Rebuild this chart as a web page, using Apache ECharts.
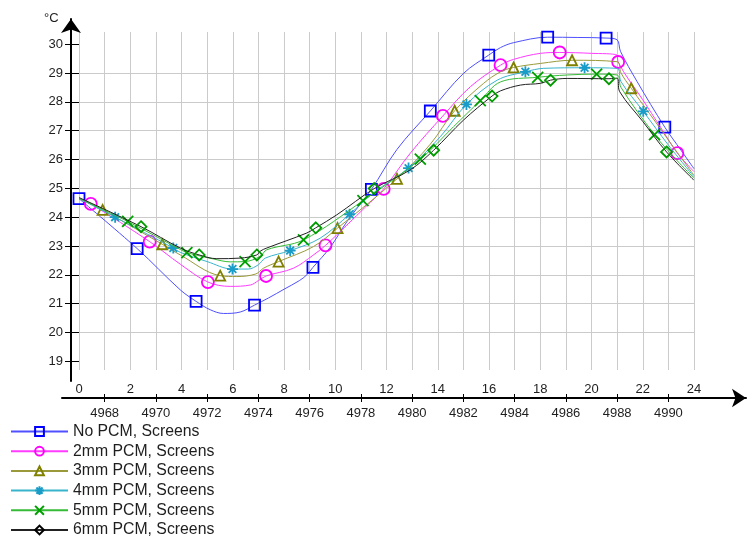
<!DOCTYPE html>
<html><head><meta charset="utf-8">
<script src="https://cdn.jsdelivr.net/npm/echarts@6/dist/echarts.min.js"></script>
<style>html,body{margin:0;padding:0;background:#fff}#c{width:753px;height:538px}</style>
</head><body><div id="c"></div>
<script>
// ---- tick labels ----
const yTicks = [19, 20, 21, 22, 23, 24, 25, 26, 27, 28, 29, 30];
const topTickHours = [0, 2, 4, 6, 8, 10, 12, 14, 16, 18, 20, 22, 24];
const topTickLabels = ['0', '2', '4', '6', '8', '10', '12', '14', '16', '18', '20', '22', '24'];
const bottomTickHours = [1, 3, 5, 7, 9, 11, 13, 15, 17, 19, 21, 23];
const bottomTickLabels = ['4968', '4970', '4972', '4974', '4976', '4978', '4980', '4982', '4984', '4986', '4988', '4990'];

const seriesNames = ['No PCM, Screens', '2mm PCM, Screens', '3mm PCM, Screens', '4mm PCM, Screens', '5mm PCM, Screens', '6mm PCM, Screens'];

// ---- No PCM ----
const noPcmLineH = [3.95, 5.12, 5.64, 6.29, 7.4, 8.0, 8.6, 8.89, 9.8, 10.46, 12.41, 15.01, 16.45, 16.96, 19.44, 21.0, 21.13, 21.78, 23.5, 24];
const noPcmLineT = [21.48, 20.79, 20.66, 20.71, 21.2, 21.5, 21.8, 22.0, 22.95, 23.85, 26.35, 28.99, 29.88, 30.05, 30.23, 30.15, 29.75, 28.7, 26.31, 25.68];
const noPcmMarkH = [0, 2.27, 4.57, 6.85, 9.13, 11.41, 13.71, 15.99, 18.29, 20.57, 22.86];
const noPcmMarkT = [24.64, 22.91, 21.08, 20.95, 22.26, 24.96, 27.68, 29.62, 30.24, 30.21, 27.12];

// ---- 2mm ----
const pcm2LineH = [0, 3.95, 5.9, 6.7, 7.0, 8.37, 9.15, 10.46, 11.2, 12.93, 15.27, 16.96, 18.01, 20.0, 21.0, 22.0, 22.7, 24];
const pcm2LineT = [24.65, 22.37, 21.6, 21.65, 21.8, 22.23, 22.69, 23.73, 24.37, 26.22, 28.52, 29.47, 29.68, 29.68, 29.62, 28.07, 27.11, 25.58];
const pcm2MarkH = [0.46, 2.76, 5.03, 7.3, 9.62, 11.89, 14.2, 16.45, 18.76, 21.04, 23.35];
const pcm2MarkT = [24.46, 23.15, 21.75, 21.96, 23.02, 24.98, 27.51, 29.27, 29.71, 29.38, 26.22];

// ---- 3mm ----
const pcm3LineH = [0, 3.95, 6.16, 6.9, 7.2, 9.15, 13.71, 15.79, 16.45, 18.01, 21.0, 21.15, 22.5, 23.3, 24];
const pcm3LineT = [24.65, 22.69, 21.94, 22.03, 22.23, 22.98, 26.53, 28.64, 29.04, 29.33, 29.39, 29.0, 27.3, 26.3, 25.45];
const pcm3MarkH = [0.92, 3.25, 5.51, 7.79, 10.09, 12.41, 14.66, 16.96, 19.24, 21.55];
const pcm3MarkT = [24.25, 23.06, 21.97, 22.46, 23.62, 25.33, 27.69, 29.19, 29.44, 28.47];

// ---- 4mm ----
const pcm4LineH = [0, 3.95, 5.0, 6.6, 7.0, 7.27, 9.41, 11.5, 14.1, 16.32, 18.14, 21.0, 21.15, 23.0, 24];
const pcm4LineT = [24.65, 22.78, 22.46, 22.2, 22.35, 22.58, 23.27, 24.85, 26.79, 28.75, 29.16, 29.16, 28.7, 26.5, 25.4];
const pcm4MarkH = [1.41, 3.68, 5.99, 8.24, 10.56, 12.86, 15.12, 17.42, 19.73, 22.02];
const pcm4MarkT = [24.0, 22.93, 22.2, 22.84, 24.1, 25.7, 27.91, 29.04, 29.18, 27.67];

// ---- 5mm ----
const pcm5LineH = [0, 3.95, 5.25, 5.9, 7.07, 7.33, 14.62, 16.45, 19.05, 21.0, 21.15, 23.3, 24];
const pcm5LineT = [24.65, 22.88, 22.55, 22.45, 22.64, 22.87, 27.14, 28.69, 28.93, 28.93, 28.5, 26.0, 25.35];
const pcm5MarkH = [1.9, 4.21, 6.48, 8.76, 11.08, 13.32, 15.66, 17.9, 20.2, 22.46];
const pcm5MarkT = [23.85, 22.77, 22.46, 23.21, 24.57, 26.01, 28.04, 28.85, 28.96, 26.86];

// ---- 6mm ----
const pcm6LineH = [0, 3.95, 5.38, 6.29, 7.07, 7.33, 8.89, 10.06, 12.93, 15.01, 16.45, 17.23, 18.01, 19.05, 21.0, 21.1, 22.0, 24];
const pcm6LineT = [24.68, 22.93, 22.56, 22.58, 22.82, 22.93, 23.45, 24.08, 25.64, 27.37, 28.38, 28.58, 28.64, 28.81, 28.82, 28.35, 27.32, 25.28];
const pcm6MarkH = [2.42, 4.69, 6.94, 9.24, 11.52, 13.84, 16.12, 18.4, 20.68, 22.93];
const pcm6MarkT = [23.67, 22.69, 22.69, 23.63, 24.99, 26.32, 28.2, 28.75, 28.8, 26.26];

function merge(lh, lt, mh, mt) {
  const pts = [];
  lh.forEach((h, i) => pts.push({ value: [h, lt[i]], symbol: 'none' }));
  mh.forEach((h, i) => pts.push({ value: [h, mt[i]] }));
  pts.sort((a, b) => a.value[0] - b.value[0]);
  return pts;
}

const FONT = 'Liberation Sans, Arial, sans-serif';
const TXT = '#1e1e1e';
const GRIDC = '#cbcbcb';

const styles = [
  { line: '#5050ff', mark: '#0000ff', symbol: 'rect', size: 11 },
  { line: '#ff3cff', mark: '#ff00ff', symbol: 'circle', size: 12 },
  { line: '#9a9a3a', mark: '#808000', symbol: 'triangle', size: 10 },
  { line: '#38b4cc', mark: '#1a9cc8', symbol: 'path://M5,0L5,10M0,5L10,5M1.5,1.5L8.5,8.5M1.5,8.5L8.5,1.5', size: 11 },
  { line: '#36bb36', mark: '#00a000', symbol: 'path://M0,0L10,10M10,0L0,10', size: 11 },
  { line: '#222222', mark: '#009a00', symbol: 'diamond', size: 11 }
];
const datas = [
  merge(noPcmLineH, noPcmLineT, noPcmMarkH, noPcmMarkT),
  merge(pcm2LineH, pcm2LineT, pcm2MarkH, pcm2MarkT),
  merge(pcm3LineH, pcm3LineT, pcm3MarkH, pcm3MarkT),
  merge(pcm4LineH, pcm4LineT, pcm4MarkH, pcm4MarkT),
  merge(pcm5LineH, pcm5LineT, pcm5MarkH, pcm5MarkT),
  merge(pcm6LineH, pcm6LineT, pcm6MarkH, pcm6MarkT)
];

const series = seriesNames.map((name, i) => ({
  name: name,
  type: 'line',
  xAxisIndex: 0,
  yAxisIndex: 0,
  data: datas[i],
  smooth: 0.35,
  symbol: styles[i].symbol,
  symbolSize: styles[i].size,
  showSymbol: true,
  lineStyle: { color: styles[i].line, width: 1 },
  itemStyle: { color: 'rgba(0,0,0,0)', borderColor: styles[i].mark, borderWidth: 1.8 },
  emphasis: { disabled: true },
  silent: true,
  z: 3 + i
}));

const chart = echarts.init(document.getElementById('c'), null, { renderer: 'canvas' });
chart.setOption({
  animation: false,
  backgroundColor: '#fff',
  textStyle: { fontFamily: FONT },
  title: { text: '°C', left: 44, top: 12, padding: 0, textStyle: { fontSize: 13, fontWeight: 'normal', color: TXT, fontFamily: FONT } },
  legend: {
    orient: 'vertical', left: 10, top: 423.5, padding: 0, height: 160,
    itemWidth: 57, itemHeight: 11, itemGap: 3.7,
    textStyle: { fontSize: 15.8, lineHeight: 15, color: TXT, fontFamily: FONT },
    data: seriesNames.map((n, i) => i === 5 ? { name: n, itemStyle: { borderColor: '#000', color: 'rgba(0,0,0,0)' } } : n),
    selectedMode: false
  },
  grid: [
    { left: 79, right: 59, top: 32, bottom: 168 },
    { left: 62, right: 7, top: 0, bottom: 140 },
    { left: 71, right: 600, top: 19, bottom: 157 }
  ],
  xAxis: [
    { type: 'value', gridIndex: 0, min: 0, max: 24, interval: 1, position: 'bottom',
      axisLine: { show: false }, axisTick: { show: false }, axisLabel: { show: false },
      splitLine: { show: true, lineStyle: { color: GRIDC, width: 1 } } },
    { type: 'value', gridIndex: 0, min: 0, max: 24, interval: 2, position: 'bottom', offset: 0,
      axisLine: { show: false }, axisTick: { show: false }, splitLine: { show: false },
      axisLabel: { show: true, margin: 13, fontSize: 13, color: TXT, fontFamily: FONT,
        formatter: v => { const k = topTickHours.indexOf(v); return k >= 0 ? topTickLabels[k] : ''; } } },
    { type: 'value', gridIndex: 0, min: 0, max: 24, position: 'bottom', offset: 24,
      axisLine: { show: false }, splitLine: { show: false },
      axisTick: { show: true, customValues: bottomTickHours, length: 8, lineStyle: { color: '#000', width: 1 } },
      axisLabel: { show: true, customValues: bottomTickHours, margin: 12.5, fontSize: 13, color: TXT, fontFamily: FONT,
        formatter: v => { const k = bottomTickHours.indexOf(v); return k >= 0 ? bottomTickLabels[k] : ''; } } },
    { type: 'value', gridIndex: 1, min: 0, max: 1, position: 'bottom',
      axisLine: { show: true, onZero: false, symbol: ['none', 'arrow'], symbolSize: [14, 14], lineStyle: { color: '#000', width: 2 } },
      axisTick: { show: false }, axisLabel: { show: false }, splitLine: { show: false } },
    { type: 'value', gridIndex: 2, min: 0, max: 1, show: false }
  ],
  yAxis: [
    { type: 'value', gridIndex: 0, min: 18.7, max: 30.42,
      axisLine: { show: false },
      axisTick: { show: true, customValues: yTicks, length: 14, lineStyle: { color: '#000', width: 1 } },
      axisLabel: { show: true, customValues: yTicks, margin: 16, fontSize: 13, color: TXT, fontFamily: FONT },
      splitLine: { show: true, showMinLine: false, showMaxLine: false, lineStyle: { color: GRIDC, width: 1 } } },
    { type: 'value', gridIndex: 1, min: 0, max: 1, show: false },
    { type: 'value', gridIndex: 2, min: 0, max: 1,
      axisLine: { show: true, onZero: false, symbol: ['none', 'arrow'], symbolSize: [15, 14], lineStyle: { color: '#000', width: 2 } },
      axisTick: { show: false }, axisLabel: { show: false }, splitLine: { show: false } }
  ],
  series: series
});
</script>
</body></html>
